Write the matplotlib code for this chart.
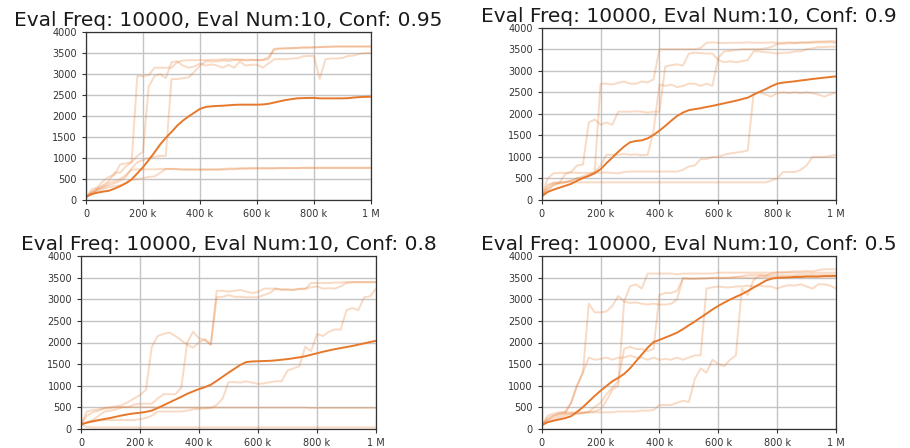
import numpy as np
import matplotlib
matplotlib.use("Agg")
import matplotlib.pyplot as plt
from matplotlib.ticker import EngFormatter, MultipleLocator

# ---------------- data ----------------
steps = np.arange(0, 1_000_001, 20_000)  # evaluation steps (shared x axis)

titles = [
    "Eval Freq: 10000, Eval Num:10, Conf: 0.95",
    "Eval Freq: 10000, Eval Num:10, Conf: 0.9",
    "Eval Freq: 10000, Eval Num:10, Conf: 0.8",
    "Eval Freq: 10000, Eval Num:10, Conf: 0.5",
]

# Conf 0.95
c95_runs = [
    [60, 250, 300, 450, 550, 600, 850, 870, 900, 2950,
     2950, 2970, 3150, 3150, 3150, 3150, 3280, 3320, 3330, 3330,
     3330, 3330, 3340, 3340, 3350, 3350, 3350, 3340, 3340, 3340,
     3330, 3330, 3400, 3600, 3610, 3610, 3620, 3620, 3630, 3630,
     3630, 3640, 3640, 3650, 3650, 3650, 3650, 3650, 3650, 3650,
     3650],
    [60, 200, 280, 350, 450, 650, 650, 800, 900, 1050,
     1150, 2700, 2950, 3000, 2900, 3280, 3300, 3200, 3150, 3180,
     3250, 3200, 3230, 3200, 3150, 3220, 3150, 3300, 3200, 3220,
     3220, 3150, 3250, 3350, 3360, 3350, 3370, 3370, 3420, 3430,
     3430, 2880, 3350, 3370, 3370, 3380, 3430, 3440, 3480, 3500,
     3500],
    [60, 150, 250, 300, 350, 400, 450, 550, 750, 900,
     950, 1000, 1030, 1050, 1050, 2880, 2880, 2900, 2920, 3050,
     3200, 3300, 3300, 3300, 3320, 3310, 3330, 3340, 3320, 3330,
     3330, 3340, 3350, 3580, 3600, 3610, 3610, 3620, 3630, 3630,
     3640, 3640, 3650, 3650, 3660, 3660, 3660, 3660, 3660, 3660,
     3660],
    [60, 150, 250, 320, 400, 450, 500, 600, 720, 730,
     730, 730, 730, 740, 740, 740, 740, 730, 730, 730,
     730, 730, 730, 730, 740, 750, 750, 750, 750, 760,
     760, 760, 760, 760, 760, 760, 760, 760, 770, 770,
     770, 770, 770, 770, 770, 770, 770, 770, 770, 770,
     770],
    [60, 180, 220, 260, 300, 330, 350, 400, 480, 500,
     520, 550, 560, 650, 740, 740, 730, 720, 720, 720,
     720, 720, 720, 720, 720, 730, 730, 750, 750, 750,
     750, 750, 750, 750, 760, 760, 760, 760, 760, 760,
     760, 760, 760, 760, 760, 760, 760, 760, 760, 760,
     760],
]
c95_mean = [80, 140, 175, 200, 220, 270, 330, 400, 490, 635,
            780, 950, 1130, 1320, 1480, 1620, 1770, 1890, 1990, 2080,
            2170, 2215, 2230, 2240, 2245, 2255, 2265, 2270, 2270, 2270,
            2270, 2275, 2290, 2320, 2350, 2380, 2400, 2420, 2425, 2430,
            2430, 2420, 2420, 2420, 2420, 2420, 2425, 2440, 2450, 2455,
            2460]

# Conf 0.9
c90_runs = [
    [80, 250, 350, 380, 400, 450, 500, 520, 550, 650,
     2700, 2700, 2680, 2720, 2750, 2700, 2700, 2750, 2730, 2800,
     3500, 3500, 3500, 3500, 3500, 3500, 3500, 3530, 3650, 3660,
     3650, 3640, 3650, 3650, 3650, 3660, 3650, 3650, 3650, 3660,
     3650, 3650, 3660, 3650, 3660, 3660, 3670, 3680, 3680, 3690,
     3680],
    [80, 200, 350, 400, 600, 650, 800, 820, 1800, 1870,
     1750, 1800, 1750, 2050, 2050, 2050, 2060, 2050, 2030, 2050,
     2050, 3100, 3130, 3150, 3120, 3400, 3420, 3410, 3400, 3400,
     3250, 3200, 3220, 3200, 3220, 3250, 3450, 3450, 3430, 3420,
     3400, 3420, 3420, 3450, 3450, 3500, 3520, 3550, 3550, 3560,
     3560],
    [80, 300, 400, 400, 420, 450, 500, 550, 600, 650,
     800, 1050, 1050, 1050, 1070, 1050, 1060, 1040, 1050, 1600,
     2680, 2650, 2680, 2620, 2650, 2700, 2700, 2650, 2700, 2650,
     3300, 3450, 3460, 3480, 3500, 3500, 3500, 3500, 3520, 3550,
     3620, 3630, 3640, 3640, 3650, 3650, 3650, 3660, 3660, 3660,
     3650],
    [80, 500, 620, 630, 630, 640, 630, 630, 630, 630,
     630, 640, 630, 620, 650, 660, 660, 660, 660, 660,
     660, 660, 660, 660, 700, 780, 800, 950, 950, 1000,
     1000, 1050, 1080, 1100, 1120, 1150, 2480, 2500, 2450, 2400,
     2480, 2500, 2480, 2500, 2480, 2500, 2480, 2450, 2400, 2450,
     2500],
    [80, 350, 400, 410, 420, 420, 410, 410, 410, 410,
     410, 410, 410, 410, 410, 410, 410, 410, 410, 410,
     410, 410, 410, 410, 410, 410, 410, 410, 410, 410,
     410, 410, 410, 410, 410, 410, 410, 410, 410, 450,
     500, 650, 650, 650, 700, 800, 1000, 1000, 1000, 1020,
     1050],
]
c90_mean = [85, 185, 240, 285, 330, 375, 445, 510, 560, 620,
            715, 855, 985, 1120, 1240, 1340, 1370, 1385, 1430, 1510,
            1610, 1720, 1840, 1950, 2030, 2085, 2110, 2130, 2160, 2185,
            2215, 2245, 2275, 2305, 2340, 2375, 2445, 2510, 2570, 2640,
            2700, 2725, 2740, 2755, 2775, 2790, 2810, 2825, 2840, 2855,
            2870]

# Conf 0.8
c80_runs = [
    [100, 300, 380, 420, 480, 500, 520, 550, 620, 700,
     780, 900, 1900, 2150, 2200, 2230, 2150, 2050, 1950, 1880,
     2000, 2080, 1950, 3200, 3200, 3180, 3200, 3220, 3180, 3150,
     3170, 3250, 3250, 3250, 3220, 3230, 3220, 3240, 3240, 3380,
     3380, 3380, 3380, 3390, 3390, 3400, 3400, 3400, 3400, 3400,
     3400],
    [100, 150, 200, 300, 400, 420, 450, 500, 500, 560,
     580, 580, 580, 700, 800, 800, 800, 950, 2000, 2250,
     2100, 2050, 1950, 3050, 3060, 3100, 3060, 3060, 3050, 3050,
     3050, 3100, 3150, 3250, 3230, 3230, 3220, 3250, 3250, 3280,
     3300, 3250, 3260, 3250, 3300, 3380, 3400, 3400, 3400, 3400,
     3400],
    [100, 150, 180, 190, 200, 200, 200, 200, 200, 200,
     220, 250, 300, 400, 400, 400, 400, 400, 420, 450,
     460, 470, 480, 550, 700, 1080, 1080, 1070, 1100, 1070,
     1040, 1050, 1080, 1100, 1100, 1350, 1400, 1450, 1900, 1800,
     2200, 2150, 2250, 2300, 2300, 2750, 2800, 2750, 3050, 3070,
     3250],
    [100, 400, 430, 450, 470, 480, 500, 500, 500, 500,
     500, 500, 500, 490, 490, 490, 490, 490, 490, 490,
     490, 490, 490, 490, 490, 490, 490, 490, 490, 490,
     490, 490, 490, 490, 490, 490, 490, 490, 490, 480,
     480, 480, 480, 480, 480, 480, 480, 480, 480, 480,
     480],
    [100, 40, 30, 30, 30, 30, 30, 30, 30, 30,
     30, 30, 30, 30, 30, 30, 30, 30, 30, 30,
     30, 30, 30, 30, 30, 30, 30, 30, 30, 30,
     30, 30, 30, 30, 30, 30, 30, 30, 30, 30,
     30, 30, 30, 30, 30, 30, 30, 30, 30, 30,
     30],
]
c80_mean = [100, 140, 170, 200, 225, 250, 280, 310, 335, 355,
            370, 390, 420, 480, 545, 610, 675, 740, 810, 865,
            920, 965, 1020, 1110, 1205, 1300, 1390, 1480, 1545, 1560,
            1565, 1570, 1575, 1585, 1600, 1615, 1635, 1655, 1680, 1715,
            1750, 1785, 1815, 1845, 1870, 1895, 1920, 1950, 1980, 2010,
            2040]

# Conf 0.5
c50_runs = [
    [80, 200, 250, 300, 350, 600, 1000, 1300, 2900, 2700,
     2700, 2720, 2850, 3080, 2950, 2920, 2930, 2900, 2880, 2900,
     2880, 2880, 2900, 3000, 3500, 3480, 3480, 3480, 3490, 3500,
     3500, 3500, 3500, 3520, 3540, 3560, 3570, 3570, 3560, 3560,
     3560, 3560, 3560, 3560, 3570, 3570, 3570, 3570, 3570, 3570,
     3570],
    [80, 250, 300, 350, 350, 350, 350, 360, 380, 400,
     450, 650, 900, 1000, 2950, 3300, 3350, 3250, 3600, 3600,
     3600, 3600, 3600, 3580, 3600, 3600, 3600, 3600, 3600, 3600,
     3620, 3620, 3620, 3620, 3620, 3620, 3620, 3620, 3620, 3620,
     3630, 3620, 3620, 3620, 3620, 3620, 3620, 3620, 3620, 3620,
     3620],
    [80, 150, 200, 250, 300, 350, 350, 360, 400, 500,
     600, 800, 950, 1100, 1850, 1900, 1850, 1850, 1800, 1850,
     3100, 3150, 3150, 3200, 3480, 3480, 3480, 3490, 3490, 3500,
     3500, 3500, 3510, 3510, 3510, 3500, 3510, 3510, 3520, 3520,
     3520, 3520, 3520, 3530, 3530, 3530, 3530, 3530, 3530, 3530,
     3530],
    [80, 200, 300, 350, 400, 600, 1000, 1300, 1650, 1600,
     1620, 1650, 1600, 1650, 1650, 1700, 1650, 1650, 1600, 1650,
     1600, 1620, 1600, 1650, 1600, 1650, 1700, 1700, 3250, 3280,
     3300, 3280, 3280, 3300, 3300, 3320, 3300, 3320, 3300, 3300,
     3250, 3300, 3330, 3320, 3350, 3300, 3250, 3350, 3350, 3320,
     3250],
    [80, 300, 350, 380, 380, 380, 380, 380, 380, 380,
     380, 380, 380, 400, 400, 400, 400, 420, 420, 430,
     550, 550, 550, 600, 650, 620, 1150, 1400, 1300, 1600,
     1500, 1450, 1600, 1700, 3250, 3100, 3450, 3550, 3550, 3600,
     3620, 3630, 3640, 3650, 3650, 3660, 3650, 3680, 3700, 3700,
     3700],
]
c50_mean = [80, 150, 185, 215, 245, 290, 390, 500, 630, 760,
            880, 990, 1100, 1180, 1270, 1400, 1560, 1720, 1880, 2010,
            2060, 2115, 2170, 2230, 2310, 2400, 2485, 2580, 2670, 2765,
            2850, 2925, 2995, 3060, 3120, 3195, 3275, 3350, 3430, 3480,
            3500, 3505, 3510, 3520, 3520, 3530, 3530, 3530, 3540, 3540,
            3545]

panels = [
    (titles[0], c95_runs, c95_mean),
    (titles[1], c90_runs, c90_mean),
    (titles[2], c80_runs, c80_mean),
    (titles[3], c50_runs, c50_mean),
]

# ---------------- drawing ----------------
W, H = 910, 448
fig = plt.figure(figsize=(W / 100, H / 100), dpi=100)

# axes boxes in pixels: left, top, right, bottom
boxes = [
    (86, 32, 371, 200),
    (541.7, 27.7, 836, 200),
    (81, 256.3, 376, 428.7),
    (541.7, 256.3, 836, 428.7),
]

color = "#e6782c"

for (title, runs, mean), (l, t, r, b) in zip(panels, boxes):
    ax = fig.add_axes([l / W, 1 - b / H, (r - l) / W, (b - t) / H])
    for run in runs:
        ax.plot(steps, run, color=color, alpha=0.27, lw=1.4)
    ax.plot(steps, mean, color=color, lw=1.4)
    ax.set_xlim(0, 1_000_000)
    ax.set_ylim(0, 4000)
    ax.yaxis.set_major_locator(MultipleLocator(500))
    ax.xaxis.set_major_locator(MultipleLocator(200_000))
    ax.xaxis.set_major_formatter(EngFormatter())
    ax.grid(True, color="#c4c4c4", lw=1.0)
    ax.set_axisbelow(True)
    ax.tick_params(labelsize=7, colors="#333333", length=3, width=0.8)
    for s in ax.spines.values():
        s.set_color("#333333")
        s.set_linewidth(0.9)
    ax.set_title(title, fontsize=14.5, pad=4.3, color="#1a1a1a")

fig.savefig("out.png", dpi=100)
